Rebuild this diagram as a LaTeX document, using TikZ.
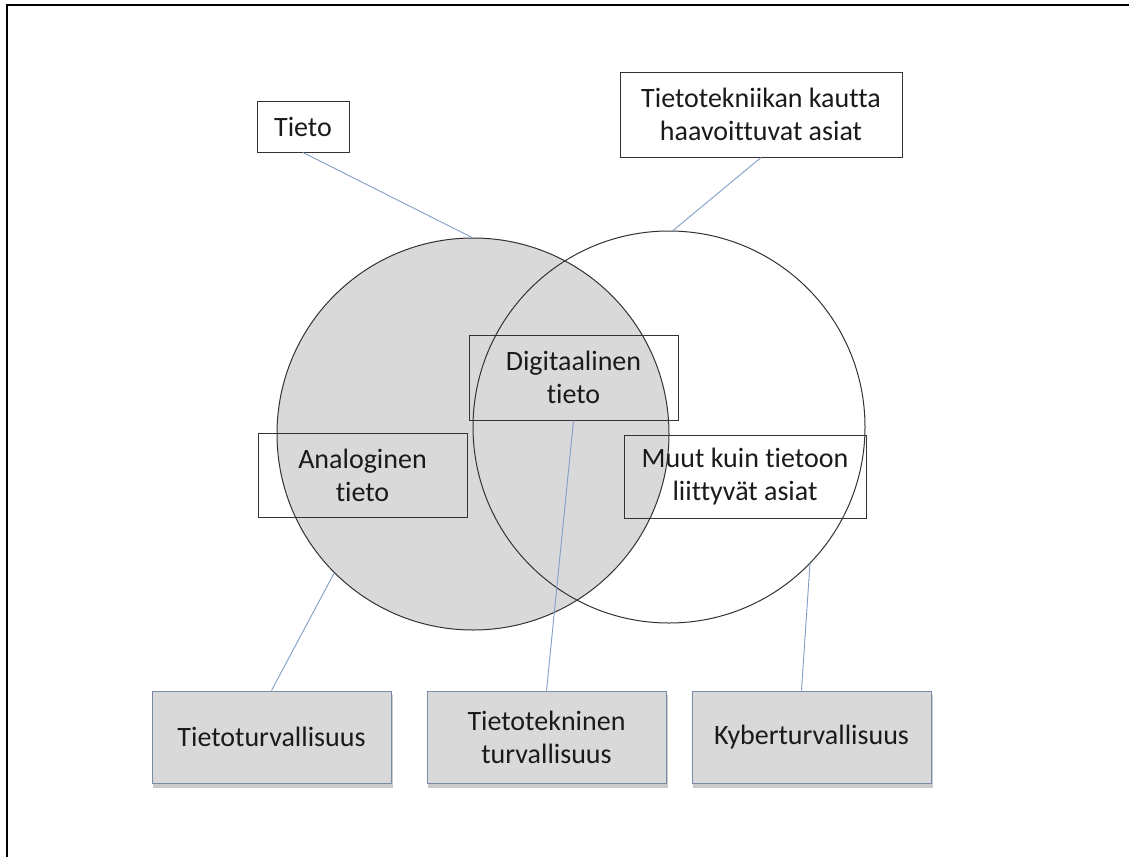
\documentclass[tikz,border=0pt]{standalone}
\usepackage{fontspec}
\setmainfont{Carlito}[RawFeature={-liga}]
\usetikzlibrary{backgrounds}
\definecolor{venngray}{RGB}{217,217,217}
\definecolor{linkblue}{RGB}{128,158,198}
\definecolor{frameblue}{RGB}{120,140,170}
\definecolor{inkdark}{RGB}{26,26,26}
\tikzset{
  label text/.style={font=\fontsize{28}{33}\selectfont, text=inkdark, align=center},
  notebox/.style={label text, draw=black!80, line width=1pt, inner sep=0pt},
  areabox/.style={label text, draw=frameblue, fill=venngray, line width=1pt, inner sep=0pt,
    minimum width=239pt, minimum height=92pt},
  boxshadow/.style={fill=black!35, opacity=0.6},
  ring/.style={circle, draw=black!80, line width=1pt, inner sep=0pt, outer sep=0pt, minimum size=392pt},
  link/.style={draw=linkblue, line width=0.9pt}
}
\begin{document}
\begin{tikzpicture}[x=1pt,y=-1pt]
\useasboundingbox (0,0) rectangle (1129,857);
% page frame: top and left edges only
\draw[line width=1.6pt] (7,857) -- (7,5) -- (1129,5);

% the two sets
\node[ring, fill=venngray] (info) at (473,434) {};
\node[ring] (vuln) at (669,427) {};

% set labels
\node[notebox, minimum width=92pt, minimum height=51pt] (tieto) at (303,126.5) {Tieto};
\node[notebox, minimum width=282pt, minimum height=85pt] (haav) at (761,114.5) {Tietotekniikan kautta\\haavoittuvat asiat};
\node[notebox, minimum width=209pt, minimum height=85pt] (digi) at (573.5,377.5) {Digitaalinen\\tieto};
\node[notebox, minimum width=209pt, minimum height=84pt] (analog) at (362.5,475) {Analoginen\\tieto};
\node[notebox, minimum width=242pt, minimum height=83pt] (muut) at (745,476.5) {Muut kuin tietoon\\liittyvät asiat};

% security domains
\node[areabox] (tturva) at (271.5,737) {Tietoturvallisuus};
\node[areabox] (ttekn) at (546.5,737) {Tietotekninen\\turvallisuus};
\node[areabox] (kyber) at (811.5,737) {Kyberturvallisuus};

% soft shadows under the domain boxes
\begin{scope}[on background layer]
  \foreach \b in {tturva,ttekn,kyber}{
    \fill[boxshadow] ([xshift=1pt,yshift=-4pt]\b.south west) rectangle ([xshift=1pt,yshift=-4pt]\b.north east);
  }
\end{scope}

% connectors
\draw[link] (tieto.south) -- (info.90);
\draw[link] (haav.south) -- (vuln.89);
\draw[link] (tturva.north) -- (info.225);
\draw[link] (ttekn.north) -- (digi.south);
\draw[link] ([xshift=-10pt]kyber.north) -- (vuln.316);
\end{tikzpicture}
\end{document}
